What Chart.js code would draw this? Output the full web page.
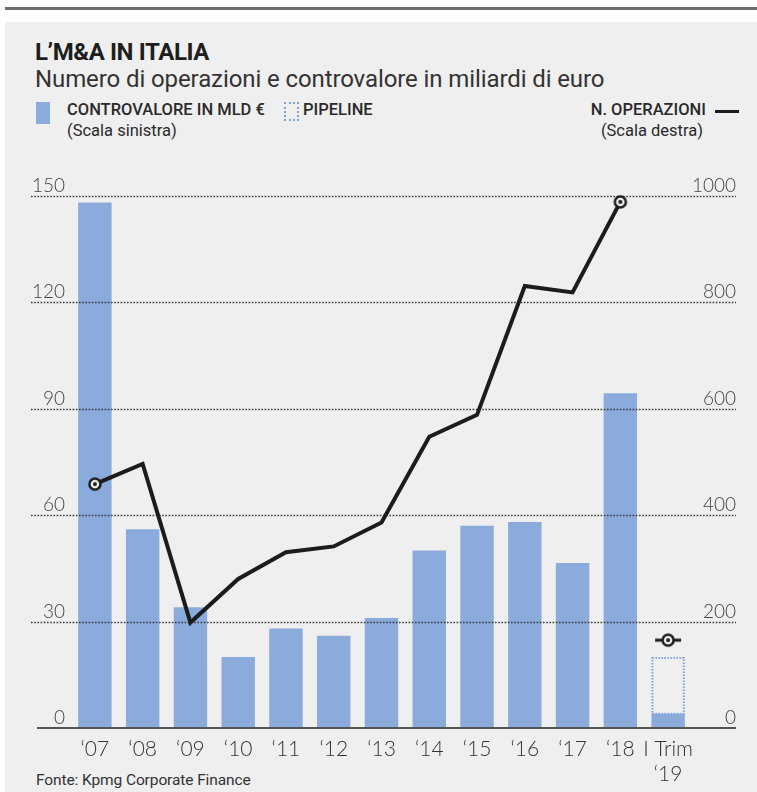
<!DOCTYPE html>
<html>
<head>
<meta charset="utf-8">
<script src="https://cdn.jsdelivr.net/npm/chart.js@4.4.1/dist/chart.umd.min.js"></script>
<style>
  html, body { margin: 0; padding: 0; background: #fff; }
  body { width: 757px; height: 792px; position: relative; overflow: hidden; font-family: Roboto, sans-serif; color: #2a2a2a; }
  .topline { position: absolute; left: 5px; right: 0; top: 7px; height: 3px; background: #6d6d6d; }
  .panel { position: absolute; left: 5px; right: 0; top: 22px; bottom: 0; background: #efefef; }
  #wrap { position: absolute; left: 0; top: 0; width: 757px; height: 792px; }
  .txt { position: absolute; white-space: nowrap; }
  .title { left: 35px; top: 38px; font-size: 24px; font-weight: 700; letter-spacing: -0.4px; color: #1e1e1e; }
  .subtitle { left: 35px; top: 65px; font-size: 24px; font-weight: 400; color: #333; letter-spacing: -0.1px; }
  .leg { font-size: 16.5px; font-weight: 500; color: #2a2a2a; letter-spacing: 0; }
  .leg2 { font-size: 16.5px; font-weight: 400; color: #2a2a2a; }
  .swatch { position: absolute; left: 36px; top: 102px; width: 14px; height: 22px; background: #8aabdc; }
  .pipe { position: absolute; left: 284px; top: 102px; width: 11px; height: 15px; border: 2px dotted #7ea2da; }
  .dash { position: absolute; left: 715px; top: 110px; width: 24px; height: 3px; background: #1c1c1c; }
  .foot { left: 36px; top: 771px; font-size: 15.5px; color: #333; letter-spacing: -0.1px; }
</style>
</head>
<body>
<div class="topline"></div>
<div class="panel"></div>

<div class="txt title">L’M&amp;A IN ITALIA</div>
<div class="txt subtitle">Numero di operazioni e controvalore in miliardi di euro</div>
<div class="swatch"></div>
<div class="txt leg" style="left:67px; top:100px;">CONTROVALORE IN MLD €</div>
<div class="txt leg2" style="left:67px; top:121px;">(Scala sinistra)</div>
<div class="pipe"></div>
<div class="txt leg" style="left:303px; top:100px;">PIPELINE</div>
<div class="txt leg" style="right:51px; top:100px;">N. OPERAZIONI</div>
<div class="dash"></div>
<div class="txt leg2" style="right:54px; top:121px;">(Scala destra)</div>
<div class="txt foot">Fonte: Kpmg Corporate Finance</div>

<div id="wrap"><canvas id="mna"></canvas></div>

<script>
// categorie (anni) e serie
const categories = ['‘07', '‘08', '‘09', '‘10', '‘11', '‘12', '‘13', '‘14', '‘15', '‘16', '‘17', '‘18', ['I Trim', '‘19']];
const controvalore = [148, 56, 34, 20, 28, 26, 31, 50, 57, 58, 46.5, 94.3, 4];
const pipeline = [null, null, null, null, null, null, null, null, null, null, null, null, 16];
const operazioni = [458, 496, 198, 280, 330, 341, 386, 547, 588, 830, 818, 988, null];
const operazioniTrim = [null, null, null, null, null, null, null, null, null, null, null, null, 165];
const leftTicks = [0, 30, 60, 90, 120, 150];
const rightTicks = [0, 200, 400, 600, 800, 1000];

const BLUE = '#8aabdc';
const INK = '#1c1c1c';

function makeMarker(withArms) {
    const w = withArms ? 28 : 16;
    const c = document.createElement('canvas');
    c.width = w;
    c.height = 16;
    const g = c.getContext('2d');
    if (withArms) {
        g.strokeStyle = INK;
        g.lineWidth = 3;
        g.beginPath();
        g.moveTo(1, 8);
        g.lineTo(w - 1, 8);
        g.stroke();
    }
    g.beginPath();
    g.arc(w / 2, 8, 5.5, 0, Math.PI * 2);
    g.fillStyle = '#f2f2f2';
    g.fill();
    g.lineWidth = 2.5;
    g.strokeStyle = INK;
    g.stroke();
    g.beginPath();
    g.arc(w / 2, 8, 2, 0, Math.PI * 2);
    g.fillStyle = INK;
    g.fill();
    return c;
}

const ring = makeMarker(false);
const ringArms = makeMarker(true);

// griglia tratteggiata, etichette degli assi e bordo della pipeline
const decor = {
    id: 'decor',
    beforeDatasetDraw(chart, args) {
        if (args.index !== 2) return;
        const ctx = chart.ctx;
        const y = chart.scales.y;
        ctx.save();
        ctx.strokeStyle = '#3a3a3a';
        ctx.lineWidth = 1.6;
        ctx.setLineDash([1.6, 1.6]);
        leftTicks.forEach(t => {
            if (t === 0) return;
            const py = Math.round(y.getPixelForValue(t)) + 0.5;
            ctx.beginPath();
            ctx.moveTo(31, py);
            ctx.lineTo(736, py);
            ctx.stroke();
        });
        ctx.setLineDash([]);
        const by = y.getPixelForValue(0);
        ctx.strokeStyle = '#555';
        ctx.lineWidth = 2;
        ctx.beginPath();
        ctx.moveTo(37, by);
        ctx.lineTo(736, by);
        ctx.stroke();

        // bordo puntinato della pipeline
        const bar = chart.getDatasetMeta(1).data[12];
        if (bar) {
            const half = bar.width / 2;
            ctx.strokeStyle = '#7ea2da';
            ctx.lineWidth = 2;
            ctx.setLineDash([1.5, 1.5]);
            ctx.strokeRect(bar.x - half + 1, bar.y + 1, bar.width - 2, bar.base - bar.y - 1);
        }
        ctx.restore();
    },
    afterDraw(chart) {
        const ctx = chart.ctx;
        const x = chart.scales.x;
        const y = chart.scales.y;
        const y2 = chart.scales.y2;
        ctx.save();
        ctx.fillStyle = '#444';
        ctx.font = '300 19px Lato, sans-serif';
        ctx.textBaseline = 'alphabetic';
        ctx.textAlign = 'right';
        leftTicks.forEach(t => ctx.fillText(String(t), 65, y.getPixelForValue(t) - 4));
        rightTicks.forEach(t => ctx.fillText(String(t), 736, y2.getPixelForValue(t) - 4));

        ctx.textAlign = 'center';
        ctx.font = '300 21px Lato, sans-serif';
        ctx.fillStyle = '#333';
        categories.forEach((lab, i) => {
            const px = x.getPixelForValue(i);
            const lines = Array.isArray(lab) ? lab : [lab];
            lines.forEach((l, k) => ctx.fillText(l, px, 756 + k * 25));
        });
        ctx.restore();
    }
};

new Chart(document.getElementById('mna'), {
    type: 'bar',
    data: {
        labels: categories,
        datasets: [
            {
                label: 'Controvalore in mld €',
                data: controvalore,
                backgroundColor: BLUE,
                categoryPercentage: 1,
                barPercentage: 0.7,
                order: 1
            },
            {
                label: 'Pipeline',
                data: pipeline,
                backgroundColor: 'rgba(0,0,0,0)',
                categoryPercentage: 1,
                barPercentage: 0.7,
                order: 2
            },
            {
                type: 'line',
                label: 'N. operazioni',
                data: operazioni,
                yAxisID: 'y2',
                borderColor: INK,
                borderWidth: 4,
                borderJoinStyle: 'miter',
                tension: 0,
                pointStyle: ring,
                pointRadius: operazioni.map((v, i) => (i === 0 || i === 11) ? 6 : 0),
                clip: false,
                order: 0
            },
            {
                type: 'line',
                label: 'N. operazioni I trim',
                data: operazioniTrim,
                yAxisID: 'y2',
                showLine: false,
                pointStyle: ringArms,
                pointRadius: 6,
                clip: false,
                order: 0
            }
        ]
    },
    options: {
        responsive: true,
        maintainAspectRatio: false,
        animation: false,
        layout: { padding: { left: 71, right: 65, top: 195.5, bottom: 64 } },
        scales: {
            x: { display: false, stacked: true },
            y: { display: false, stacked: true, min: 0, max: 150 },
            y2: { display: false, min: 0, max: 1000 }
        },
        plugins: {
            legend: { display: false },
            tooltip: { enabled: false }
        }
    },
    plugins: [decor]
});
</script>
</body>
</html>
